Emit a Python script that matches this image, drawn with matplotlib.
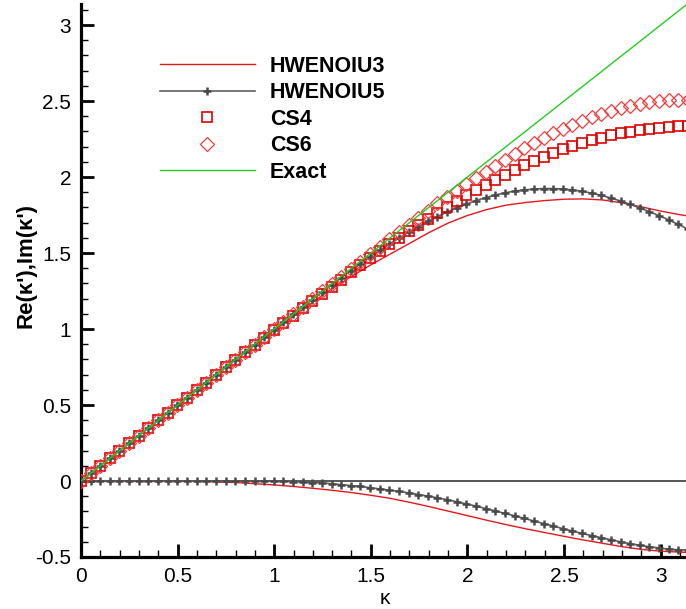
import matplotlib
matplotlib.use("Agg")
import matplotlib.pyplot as plt
from matplotlib.ticker import MultipleLocator, FormatStrFormatter

plt.rcParams['font.family'] = ['Liberation Sans', 'DejaVu Sans']
plt.rcParams['axes.unicode_minus'] = False

# --- data ---
kappa = [0.000, 0.050, 0.100, 0.150, 0.199, 0.249, 0.299, 0.349, 0.399, 0.449,
         0.499, 0.549, 0.598, 0.648, 0.698, 0.748, 0.798, 0.848, 0.898, 0.947,
         0.997, 1.047, 1.097, 1.147, 1.197, 1.247, 1.297, 1.346, 1.396, 1.446,
         1.496, 1.546, 1.596, 1.646, 1.696, 1.745, 1.795, 1.845, 1.895, 1.945,
         1.995, 2.044, 2.094, 2.144, 2.194, 2.244, 2.294, 2.344, 2.394, 2.443,
         2.493, 2.543, 2.593, 2.643, 2.693, 2.743, 2.793, 2.842, 2.892, 2.942,
         2.992, 3.042, 3.092, 3.142]

cs4_re = [0.000, 0.050, 0.100, 0.150, 0.199, 0.249, 0.299, 0.349, 0.399, 0.449,
          0.499, 0.549, 0.598, 0.648, 0.698, 0.747, 0.797, 0.846, 0.895, 0.943,
          0.992, 1.040, 1.088, 1.136, 1.184, 1.231, 1.278, 1.325, 1.373, 1.421,
          1.468, 1.514, 1.558, 1.602, 1.645, 1.687, 1.727, 1.766, 1.805, 1.843,
          1.880, 1.916, 1.950, 1.983, 2.015, 2.047, 2.078, 2.107, 2.134, 2.159,
          2.182, 2.204, 2.224, 2.242, 2.259, 2.274, 2.287, 2.299, 2.309, 2.318,
          2.325, 2.331, 2.335, 2.337]

cs6_re = [0.000, 0.050, 0.100, 0.150, 0.199, 0.249, 0.299, 0.349, 0.399, 0.449,
          0.499, 0.549, 0.598, 0.648, 0.698, 0.748, 0.798, 0.848, 0.898, 0.947,
          0.997, 1.047, 1.097, 1.147, 1.197, 1.247, 1.296, 1.345, 1.395, 1.444,
          1.493, 1.542, 1.591, 1.639, 1.687, 1.733, 1.779, 1.826, 1.868, 1.911,
          1.953, 1.993, 2.034, 2.072, 2.112, 2.152, 2.190, 2.226, 2.259, 2.289,
          2.318, 2.345, 2.370, 2.394, 2.416, 2.436, 2.454, 2.469, 2.482, 2.492,
          2.500, 2.504, 2.506, 2.507]

h5_re = [0.000, 0.050, 0.100, 0.150, 0.199, 0.249, 0.299, 0.349, 0.399, 0.449,
         0.499, 0.549, 0.598, 0.648, 0.698, 0.748, 0.798, 0.848, 0.898, 0.947,
         0.996, 1.046, 1.096, 1.145, 1.194, 1.242, 1.290, 1.337, 1.384, 1.430,
         1.474, 1.517, 1.559, 1.599, 1.637, 1.673, 1.708, 1.740, 1.770, 1.797,
         1.822, 1.845, 1.864, 1.881, 1.896, 1.907, 1.915, 1.921, 1.924, 1.924,
         1.921, 1.915, 1.906, 1.894, 1.879, 1.862, 1.842, 1.820, 1.797, 1.772,
         1.746, 1.718, 1.688, 1.656]

h5_im = [0.000, 0.000, 0.000, 0.000, 0.000, 0.000, 0.000, 0.000, 0.000, 0.000,
         0.000, 0.000, 0.000, 0.000, 0.000, 0.000, 0.000, 0.000, 0.000, -0.001,
         -0.002, -0.003, -0.005, -0.007, -0.010, -0.013, -0.018, -0.024, -0.030, -0.036,
         -0.044, -0.052, -0.060, -0.068, -0.078, -0.089, -0.099, -0.111, -0.123, -0.137,
         -0.151, -0.165, -0.181, -0.197, -0.213, -0.229, -0.246, -0.263, -0.280, -0.296,
         -0.313, -0.329, -0.345, -0.359, -0.373, -0.387, -0.400, -0.412, -0.423, -0.432,
         -0.441, -0.448, -0.453, -0.455]

k3 = [0.0, 0.2, 0.4, 0.6, 0.8, 1.0, 1.1, 1.2, 1.3, 1.4, 1.5, 1.6, 1.7, 1.8,
      1.9, 2.0, 2.1, 2.2, 2.3, 2.4, 2.5, 2.6, 2.7, 2.8, 2.9, 3.0, 3.1, 3.1416]
h3_re = [0.0, 0.2, 0.4, 0.599, 0.797, 0.991, 1.084, 1.177, 1.266, 1.346, 1.422,
         1.493, 1.563, 1.634, 1.697, 1.747, 1.786, 1.815, 1.832, 1.845, 1.854,
         1.856, 1.849, 1.830, 1.804, 1.776, 1.752, 1.744]
h3_im = [0.0, 0.0, 0.0, -0.002, -0.010, -0.026, -0.036, -0.048, -0.061, -0.076,
         -0.094, -0.114, -0.140, -0.168, -0.198, -0.228, -0.258, -0.287, -0.314,
         -0.339, -0.364, -0.388, -0.410, -0.432, -0.450, -0.462, -0.468, -0.470]

exact_k = [0.0, 3.1416]
exact_re = [0.0, 3.1416]
zero_im = [0.0, 0.0]

W, H = 686, 609
fig = plt.figure(figsize=(W / 100, H / 100), dpi=100)
# right end of the axis (kappa = pi) falls just outside the picture
ax = fig.add_axes([81 / W, 52 / H, (688 - 81) / W, (557 - 3.5) / H])

RED = '#e8161b'
GRAY = '#4a4a4a'

ax.plot(exact_k, zero_im, color='#3a3a3a', lw=1.2, zorder=1)
ax.plot(k3, h3_re, color=RED, lw=1.0, label='HWENOIU3', zorder=2)
ax.plot(k3, h3_im, color=RED, lw=1.0, zorder=2)
ax.plot(kappa, h5_re, color='#606060', lw=1.2, marker='+', ms=6, mew=1.8,
        mec=GRAY, label='HWENOIU5', zorder=3)
ax.plot(kappa, h5_im, color='#606060', lw=1.2, marker='+', ms=6, mew=1.8,
        mec=GRAY, zorder=3)
ax.plot(kappa, cs4_re, ls='none', marker='s', ms=6.5, mfc='none', mec='#e00000',
        mew=1.2, label='CS4', zorder=4)
ax.plot(kappa, cs6_re, ls='none', marker='D', ms=7.5, mfc='none', mec='#f03c3c',
        mew=0.9, label='CS6', zorder=4)
ax.plot(exact_k, exact_re, color='#22cc22', lw=1.0, label='Exact', zorder=5)

ax.set_xlim(0, 3.1416)
ax.set_ylim(-0.5, 3.1416)
ax.xaxis.set_major_locator(MultipleLocator(0.5))
ax.xaxis.set_minor_locator(MultipleLocator(0.1))
ax.yaxis.set_major_locator(MultipleLocator(0.5))
ax.yaxis.set_minor_locator(MultipleLocator(0.1))
fmt = FormatStrFormatter('%g')
ax.xaxis.set_major_formatter(fmt)
ax.yaxis.set_major_formatter(fmt)

for s in ['top', 'right']:
    ax.spines[s].set_visible(False)
for s in ['left', 'bottom']:
    ax.spines[s].set_linewidth(2.3)
ax.tick_params(which='major', direction='in', length=9.5, width=2.0,
               labelsize=15, pad=7)
ax.tick_params(which='minor', direction='in', length=5, width=1.0)

fig.text(26 / W, 1 - 265 / H, "Re(\u03ba'),Im(\u03ba')", rotation=90,
         ha='center', va='center', fontsize=16, fontweight='bold')
fig.text(385 / W, 1 - 598 / H, '\u03ba', ha='center', va='center', fontsize=15)

leg = ax.legend(loc='upper left', bbox_to_anchor=(160 / W, 1 - 56 / H),
                bbox_transform=fig.transFigure, frameon=False, numpoints=1,
                handlelength=4.4, handletextpad=0.7, labelspacing=0.25,
                borderpad=0, borderaxespad=0,
                prop={'family': 'Liberation Sans', 'weight': 'bold', 'size': 15.5})

fig.savefig('out.png', dpi=100)
